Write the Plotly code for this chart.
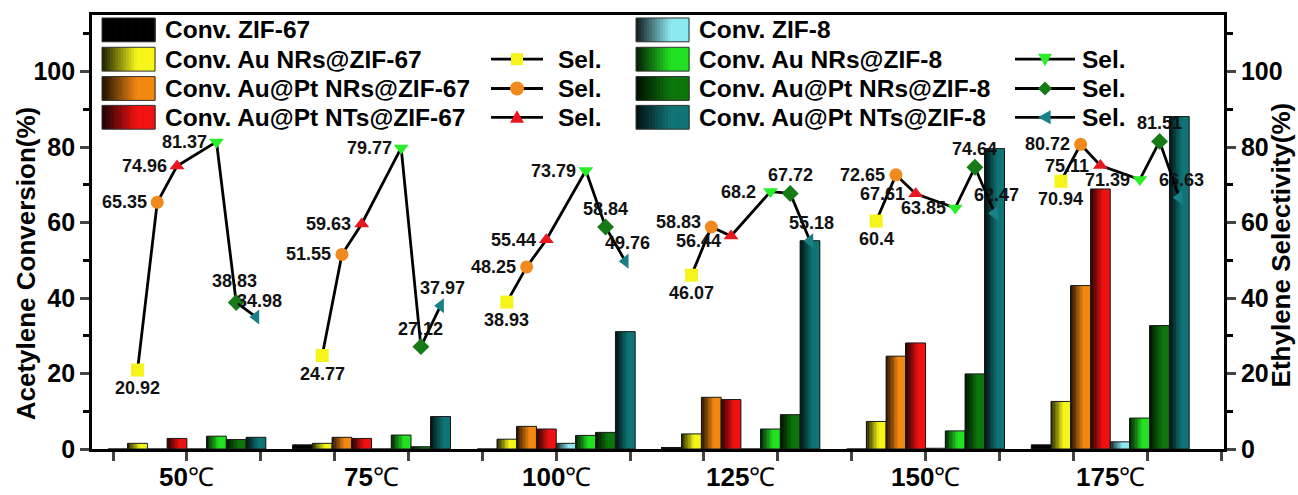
import numpy as np
import plotly.graph_objects as go

# ---------------- data ----------------
temps = ["50", "75", "100", "125", "150", "175"]

conv_names = ["Conv. ZIF-67", "Conv. Au NRs@ZIF-67", "Conv. Au@Pt NRs@ZIF-67", "Conv. Au@Pt NTs@ZIF-67",
              "Conv. ZIF-8", "Conv. Au NRs@ZIF-8", "Conv. Au@Pt NRs@ZIF-8", "Conv. Au@Pt NTs@ZIF-8"]

conv_zif67 = [0.0, 1.1, 0.0, 0.3, 0.0, 1.1]
conv_au_nrs_zif67 = [1.5, 1.5, 2.6, 4.0, 7.3, 12.6]
conv_aupt_nrs_zif67 = [0.0, 3.1, 6.0, 13.7, 24.6, 43.3]
conv_aupt_nts_zif67 = [2.8, 2.8, 5.3, 13.1, 28.1, 68.9]
conv_zif8 = [0.0, 0.0, 1.5, 0.0, 0.2, 1.9]
conv_au_nrs_zif8 = [3.4, 3.7, 3.6, 5.3, 4.8, 8.2]
conv_aupt_nrs_zif8 = [2.5, 0.6, 4.4, 9.1, 19.9, 32.7]
conv_aupt_nts_zif8 = [3.1, 8.6, 31.1, 55.2, 79.6, 88.1]

sel_au_nrs_zif67 = [20.92, 24.77, 38.93, 46.07, 60.4, 70.94]
sel_aupt_nrs_zif67 = [65.35, 51.55, 48.25, 58.83, 72.65, 80.72]
sel_aupt_nts_zif67 = [74.96, 59.63, 55.44, 56.44, 67.61, 75.11]
sel_au_nrs_zif8 = [81.37, 79.77, 73.79, 68.2, 63.85, 71.39]
sel_aupt_nrs_zif8 = [38.83, 27.12, 58.84, 67.72, 74.64, 81.51]
sel_aupt_nts_zif8 = [34.98, 37.97, 49.76, 55.18, 62.47, 66.63]

# ---------------- styles ----------------
conv_series = [conv_zif67, conv_au_nrs_zif67, conv_aupt_nrs_zif67, conv_aupt_nts_zif67,
               conv_zif8, conv_au_nrs_zif8, conv_aupt_nrs_zif8, conv_aupt_nts_zif8]
bar_colors = [(0, 0, 0), (245, 245, 25), (242, 135, 18), (240, 18, 18),
              (140, 232, 240), (34, 225, 34), (12, 118, 12), (16, 116, 118)]

sel_series = [sel_au_nrs_zif67, sel_aupt_nrs_zif67, sel_aupt_nts_zif67,
              sel_au_nrs_zif8, sel_aupt_nrs_zif8, sel_aupt_nts_zif8]
sel_bar_index = [1, 2, 3, 5, 6, 7]
sel_symbols = ["square", "circle", "triangle-up", "triangle-down", "diamond", "triangle-left"]
sel_colors = ["#f4f41a", "#f08a1e", "#e8161e", "#2aee2a", "#167a16", "#1a8088"]
sel_label_shift = [(0, -18), (-33, 0), (-33, 0), (-32, 0), (0, 18), (2, 18)]
# small extra nudges (series index, group index) -> (dx, dy) to keep crowded labels legible
label_nudge = {(1, 3): (0, 5), (2, 3): (0, -5), (4, 0): (-2, 3), (5, 0): (2, -2)}

FONT = "Liberation Sans, Arial, sans-serif"

# pixel frame of the plot area
W, H = 1298, 495
PX0, PX1, PY0, PY1 = 92, 1224, 12, 449
GROUP_STEP = 2.5
BARGAP = 0.145
n_bars = len(conv_series)
group_x = np.arange(len(temps)) * GROUP_STEP + 1.0
bar_w = GROUP_STEP * (1 - BARGAP) / n_bars
x_per_px = 1 / 73.87
x_lo = -(113 - PX0) * x_per_px
x_hi = x_lo + (PX1 - PX0) * x_per_px
Y_MAX = 115


def grad(c, t):
    f = min(1.0, 0.12 + 1.35 * t)
    return "rgb(%d,%d,%d)" % tuple(int(v * f) for v in c)


fig = go.Figure()

# gradient bars (sliced)
K = 14
for j, (vals, col) in enumerate(zip(conv_series, bar_colors)):
    base = (j - n_bars / 2) * bar_w
    for k in range(K):
        fig.add_trace(go.Bar(x=group_x, y=vals, width=bar_w / K * 1.05, offset=base + k * bar_w / K,
                             marker=dict(color=grad(col, (k + 0.5) / K), line=dict(width=0)),
                             showlegend=False, hoverinfo="skip"))
    fig.add_trace(go.Bar(x=group_x, y=vals, width=bar_w, offset=base, name=conv_names[j],
                         marker=dict(color="rgba(0,0,0,0)", line=dict(color="#1a1a1a", width=1)),
                         showlegend=False))

# selectivity: black connecting line in each group
sel_x = [group_x + (bi - (n_bars - 1) / 2) * bar_w for bi in sel_bar_index]
for g in range(len(temps)):
    fig.add_trace(go.Scatter(x=[sx[g] for sx in sel_x], y=[s[g] for s in sel_series],
                             mode="lines", line=dict(color="black", width=2.8),
                             yaxis="y2", showlegend=False, hoverinfo="skip"))
for s, sx, sym, col in zip(sel_series, sel_x, sel_symbols, sel_colors):
    fig.add_trace(go.Scatter(x=sx, y=s, mode="markers", yaxis="y2", name="Sel.",
                             marker=dict(symbol=sym, size=13, color=col, line=dict(width=0)),
                             showlegend=False))

annotations = []
# data labels
for si, (s, sx, (dx, dy)) in enumerate(zip(sel_series, sel_x, sel_label_shift)):
    for g, (xv, yv) in enumerate(zip(sx, s)):
        ndx, ndy = label_nudge.get((si, g), (0, 0))
        annotations.append(dict(x=xv, y=yv, xref="x", yref="y2", text="<b>%g</b>" % yv,
                                showarrow=False, xshift=dx + ndx, yshift=dy + ndy,
                                xanchor="center", yanchor="middle",
                                font=dict(family=FONT, size=18, color="#111")))


def px(x):
    return (x - PX0) / (PX1 - PX0)


def py(y):
    return (PY1 - y) / (PY1 - PY0)


# category labels
for gx, t in zip(group_x, temps):
    annotations.append(dict(x=gx, y=py(477), xref="x", yref="paper", showarrow=False,
                            xanchor="center", yanchor="middle",
                            text="<b>%s</b>℃" % t,
                            font=dict(family=FONT, size=26, color="black")))
# axis titles
annotations.append(dict(x=px(26), y=py(262), xref="paper", yref="paper", showarrow=False,
                        xanchor="center", yanchor="middle",
                        text="<b>Acetylene Conversion(%)</b>", textangle=-90,
                        font=dict(family=FONT, size=26, color="black")))
annotations.append(dict(x=px(1281), y=py(244), xref="paper", yref="paper", showarrow=False,
                        xanchor="center", yanchor="middle",
                        text="<b>Ethylene Selectivity(%)</b>", textangle=-90,
                        font=dict(family=FONT, size=26, color="black")))

# ---------------- custom legend ----------------
shapes = []
row_y = [27, 56.5, 86, 115]
cols = [(102, 155, 163, 491, 543, 556), (636, 689, 697, 1015, 1075, 1080)]
SW_H = 24
KL = 20
for c in range(2):
    sx0, sx1, tx, lx0, lx1, stx = cols[c]
    for r in range(4):
        j = c * 4 + r
        yc = row_y[r]
        for k in range(KL):
            a = sx0 + (sx1 - sx0) * k / KL
            b = sx0 + (sx1 - sx0) * (k + 1) / KL
            shapes.append(dict(type="rect", xref="paper", yref="paper", x0=px(a), x1=px(b) + 0.0006,
                               y0=py(yc + SW_H / 2), y1=py(yc - SW_H / 2),
                               fillcolor=grad(bar_colors[j], (k + 0.5) / KL), line=dict(width=0)))
        shapes.append(dict(type="rect", xref="paper", yref="paper", x0=px(sx0), x1=px(sx1),
                           y0=py(yc + SW_H / 2), y1=py(yc - SW_H / 2),
                           line=dict(color="#333", width=1)))
        annotations.append(dict(x=px(tx), y=py(yc), xref="paper", yref="paper", xanchor="left",
                                yanchor="middle", showarrow=False, text="<b>%s</b>" % conv_names[j],
                                font=dict(family=FONT, size=24.5, color="black")))
        if r >= 1:
            si = c * 3 + r - 1
            shapes.append(dict(type="line", xref="paper", yref="paper", x0=px(lx0), x1=px(lx1),
                               y0=py(yc), y1=py(yc), line=dict(color="black", width=2.8)))
            cx = (lx0 + lx1) / 2
            s2 = 7
            col = sel_colors[si]
            sym = sel_symbols[si]
            if sym == "square":
                shapes.append(dict(type="rect", xref="paper", yref="paper", x0=px(cx - s2 + 1), x1=px(cx + s2 - 1),
                                   y0=py(yc + s2 - 1), y1=py(yc - s2 + 1), fillcolor=col, line=dict(width=0)))
            elif sym == "circle":
                shapes.append(dict(type="circle", xref="paper", yref="paper", x0=px(cx - s2), x1=px(cx + s2),
                                   y0=py(yc + s2), y1=py(yc - s2), fillcolor=col, line=dict(width=0)))
            else:
                if sym == "triangle-up":
                    pts = [(cx - s2, yc + s2 * 0.8), (cx + s2, yc + s2 * 0.8), (cx, yc - s2)]
                elif sym == "triangle-down":
                    pts = [(cx - s2, yc - s2 * 0.8), (cx + s2, yc - s2 * 0.8), (cx, yc + s2)]
                elif sym == "diamond":
                    pts = [(cx - s2, yc), (cx, yc - s2), (cx + s2, yc), (cx, yc + s2)]
                else:
                    pts = [(cx + s2 * 0.8, yc - s2), (cx + s2 * 0.8, yc + s2), (cx - s2, yc)]
                path = "M " + " L ".join("%.5f,%.5f" % (px(a), py(b)) for a, b in pts) + " Z"
                shapes.append(dict(type="path", xref="paper", yref="paper", path=path,
                                   fillcolor=col, line=dict(width=0)))
            annotations.append(dict(x=px(stx), y=py(yc), xref="paper", yref="paper", xanchor="left",
                                    yanchor="middle", showarrow=False, text="<b>Sel.</b>",
                                    font=dict(family=FONT, size=24.5, color="black")))

axis_font = dict(family=FONT, size=25, color="black", weight="bold")
fig.update_layout(
    width=W, height=H,
    margin=dict(l=PX0, r=W - PX1, t=PY0, b=H - PY1),
    paper_bgcolor="white", plot_bgcolor="white",
    barmode="overlay", bargap=BARGAP,
    showlegend=False,
    xaxis=dict(range=[x_lo, x_hi], tick0=0, dtick=1, ticks="outside", ticklen=9, tickwidth=2.5,
               showticklabels=False, showgrid=False, zeroline=False,
               showline=True, linecolor="black", linewidth=2.8, mirror=True),
    yaxis=dict(range=[0, Y_MAX], tick0=0, dtick=20, ticks="outside", ticklen=9, tickwidth=2.5,
               tickfont=axis_font, showgrid=False, zeroline=False,
               showline=True, linecolor="black", linewidth=2.8,
               minor=dict(tick0=10, dtick=20, ticks="outside", ticklen=6, tickwidth=2.5, tickcolor="black")),
    yaxis2=dict(range=[0, Y_MAX], tick0=0, dtick=20, ticks="outside", ticklen=9, tickwidth=2.5,
                tickfont=axis_font, showgrid=False, zeroline=False, overlaying="y", side="right",
                showline=True, linecolor="black", linewidth=2.8,
                minor=dict(tick0=10, dtick=20, ticks="outside", ticklen=6, tickwidth=2.5, tickcolor="black")),
    annotations=annotations,
    shapes=shapes,
)

fig.write_html("out.html", config={"displayModeBar": False},
               post_script="document.body.style.margin='0px';")
